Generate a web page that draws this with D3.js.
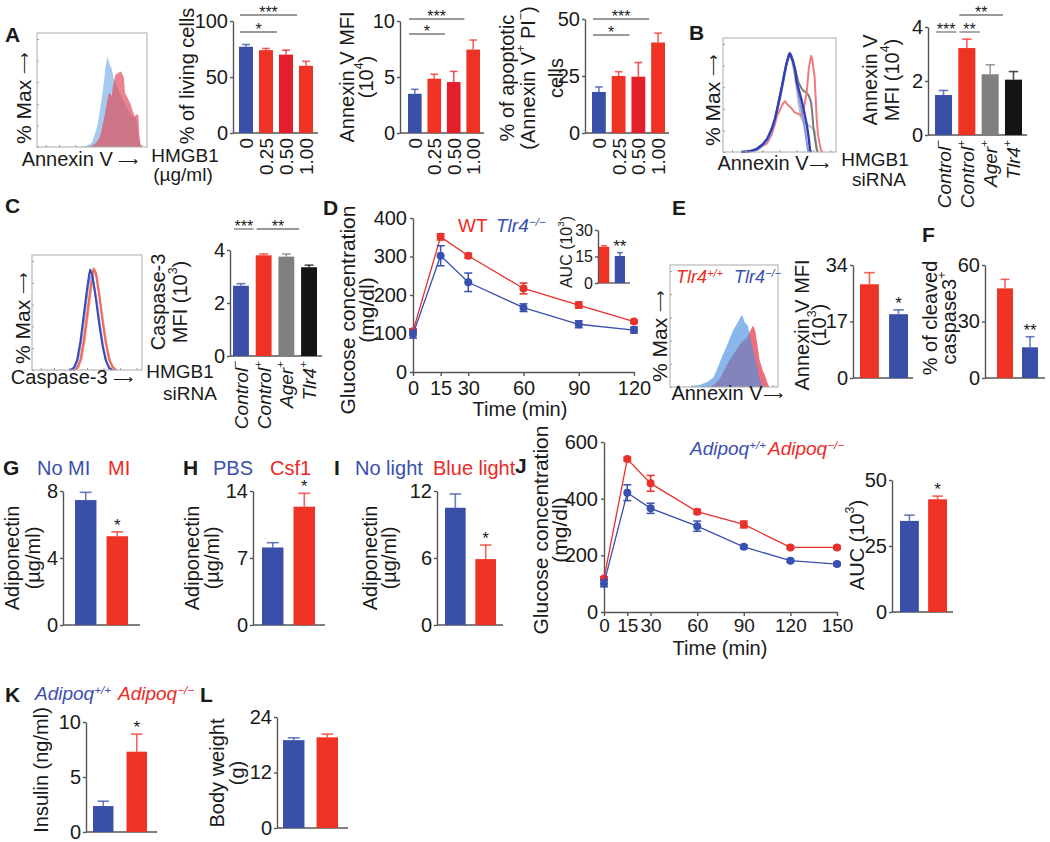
<!DOCTYPE html>
<html>
<head>
<meta charset="utf-8">
<script src="https://cdn.jsdelivr.net/npm/d3@7"></script>
<style>
  body { margin: 0; background: #fff; }
</style>
</head>
<body>
<div id="chart"></div>
<script>
// ---- data ----

// A: HMGB1 dose response
const hmgbDoses = ["0", "0.25", "0.50", "1.00"];
const livingCells = [77, 74, 70, 60];
const livingCellsErr = [2, 1.5, 4, 4];
const annexinMfiA = [3.5, 4.85, 4.55, 7.45];
const annexinMfiAErr = [0.4, 0.4, 0.95, 0.85];
const apoptoticCells = [18, 25, 24.7, 39.7];
const apoptoticCellsErr = [2.2, 1.9, 6.2, 4.1];
const sigA = [[0, 2, "*", 0], [0, 3, "***", 1]];

// B / C: siRNA groups
const sirnaGroups = ["Control^{−}", "Control^{+}", "Ager^{+}", "Tlr4^{+}"];
const annexinMfiB = [1.48, 3.22, 2.25, 2.05];
const annexinMfiBErr = [0.17, 0.33, 0.35, 0.3];
const sigB = [[0, 1, "***", 0], [1, 2, "**", 0], [1, 3, "**", 1]];
const caspaseMfi = [2.65, 3.8, 3.75, 3.35];
const caspaseMfiErr = [0.08, 0.05, 0.1, 0.08];
const sigC = [[0, 1, "***", 0], [1, 3, "**", 0]];

// D: glucose tolerance WT vs Tlr4-/-
const timesD = [0, 15, 30, 60, 90, 120];
const glucoseWT = [106, 351, 302, 217, 174, 131];
const glucoseWTErr = [6, 8, 6, 14, 8, 3];
const glucoseTlr4 = [98, 302, 233, 167, 124, 109];
const glucoseTlr4Err = [10, 26, 24, 10, 9, 8];
const aucD = [20.5, 15.3];
const aucDErr = [0.6, 1.9];

// E / F
const annexinMfiE = [28.2, 19.2];
const annexinMfiEErr = [3.5, 1.3];
const cleavedCaspase = [47.6, 16.3];
const cleavedCaspaseErr = [4.8, 5.6];

// G / H / I: adiponectin
const adipoMI = [7.46, 5.3];
const adipoMIErr = [0.46, 0.26];
const adipoCsf1 = [8.1, 12.36];
const adipoCsf1Err = [0.5, 1.4];
const adipoLight = [10.5, 5.9];
const adipoLightErr = [1.23, 1.26];

// J: glucose tolerance Adipoq
const timesJ = [0, 15, 30, 60, 90, 120, 150];
const glucoseAdipoWT = [101, 421, 366, 303, 230, 181, 169];
const glucoseAdipoWTErr = [12, 28, 18, 18, 6, 5, 5];
const glucoseAdipoKO = [118, 540, 454, 354, 309, 228, 228];
const glucoseAdipoKOErr = [6, 6, 28, 8, 12, 5, 5];
const aucJ = [34.5, 42.7];
const aucJErr = [2.2, 1.2];

// K / L
const insulin = [2.36, 7.3];
const insulinErr = [0.44, 1.6];
const bodyWeight = [19.0, 19.6];
const bodyWeightErr = [0.5, 0.7];

// flow histograms: [x % of range, height % of max]
const histABlue = [[38,0],[45,1],[50,4],[55,20],[59,46],[61,62],[62,72],[64,84],[65,80],[66,77],[68,72],[70,62],[72,58],[74,52],[76,48],[78,44],[80,40],[82,36],[84,32],[86,29],[88,28],[90,27],[91,22],[92,10],[94,2],[95,0]];
const histARed = [[46,0],[50,1],[54,4],[57,9],[59,17],[62,32],[65,49],[66,50],[68,47],[69,56],[71,66],[73,68],[76,70],[77,69],[79,64],[80,50],[82,46],[85,40],[87,33],[88,31],[89,28],[90,30],[92,30],[93,12],[94,3],[95,0]];
const histBBlue = [[16,0],[25,1],[30,3],[35,7],[39,12],[43,21],[46,31],[49,45],[52,60],[54,71],[56,81],[58,88],[59,91],[60,90],[61,86],[62,84],[64,75],[65,66],[67,58],[70,46],[72,36],[74,26],[76,12],[77,2],[78,0]];
const histBLightBlue = [[18,0],[27,1],[32,3],[37,8],[41,14],[45,25],[48,38],[51,52],[54,68],[56,80],[58,90],[59,92],[61,88],[63,78],[65,64],[67,52],[70,36],[72,24],[74,10],[75,2],[76,0]];
const histBGrey = [[20,0],[30,2],[40,12],[46,30],[50,50],[54,70],[57,86],[59,91],[61,88],[63,80],[65,72],[67,64],[70,58],[72,56],[74,55],[76,52],[78,46],[79,35],[80,23],[82,8],[83,2],[84,0]];
const histBLightGrey = [[20,0],[30,2],[40,12],[46,30],[50,50],[54,70],[57,86],[59,91],[61,85],[63,74],[65,60],[67,44],[69,32],[71,28],[73,26],[75,25],[77,24],[79,22],[81,20],[82,12],[83,4],[84,0]];
const histBRed = [[19,0],[28,2],[34,5],[39,8],[43,16],[46,26],[48,34],[50,38],[52,43],[54,46],[55,47],[57,44],[59,42],[61,40],[63,37],[65,36],[67,35],[69,34],[71,38],[72,43],[74,55],[75,66],[76,78],[78,89],[79,86],[80,78],[81,70],[82,50],[83,30],[84,17],[86,5],[87,1],[88,0]];
const histCBlue = [[34,0],[38,2],[41,9],[44,26],[47,50],[50,74],[52,88],[53,92],[55,86],[58,66],[61,43],[64,23],[67,9],[70,2],[73,0]];
const histCLightBlue = [[35,0],[39,2],[42,10],[45,28],[48,52],[51,76],[53,86],[54,84],[56,80],[59,62],[62,40],[65,20],[68,7],[71,1],[74,0]];
const histCRed = [[37,0],[41,2],[44,9],[47,27],[50,50],[53,74],[55,88],[56,93],[58,89],[61,69],[64,46],[67,25],[70,10],[73,3],[76,0]];
const histCPink = [[38,0],[42,2],[45,10],[48,28],[51,52],[54,76],[56,88],[57,92],[59,86],[62,64],[65,42],[68,22],[71,8],[74,2],[77,0]];
const histEBlue = [[18,0],[22,1],[28,2],[34,4],[37,6],[40,8],[43,14],[46,21],[49,28],[52,34],[55,41],[58,48],[61,53],[63,56],[65,60],[67,62],[69,56],[72,53],[75,40],[78,28],[80,21],[83,7],[86,0]];
const histERed = [[37,0],[42,3],[46,7],[50,14],[55,23],[60,30],[65,37],[68,40],[71,42],[74,48],[77,53],[79,48],[80,42],[83,23],[86,14],[88,10],[90,4],[92,0]];

// ---- drawing ----
const W = 1050, H = 842;
const FONT = "'Liberation Sans', Arial, Helvetica, sans-serif";
const BLUE = "#3a50a8", RED = "#ee3224", RED2 = "#e21f2a", GREY = "#808080", BLACK = "#141414";
const TXT_BLUE = "#3b4fb0", TXT_RED = "#ec2a26";
const AXIS = "#555";
const intFmt = d3.format("~g");

const svg = d3.select("#chart").append("svg")
    .attr("width", W).attr("height", H)
    .attr("font-family", FONT);
svg.append("rect").attr("width", W).attr("height", H).attr("fill", "#fff");

// text with ^{superscript} parts
function rich(sel, str) {
    str.split(/(\^\{[^}]*\})/).filter(s => s).forEach(p => {
        if (p.startsWith("^{")) {
            sel.append("tspan").attr("baseline-shift", "super").attr("font-size", "62%").text(p.slice(2, -1));
        } else {
            sel.append("tspan").text(p);
        }
    });
    return sel;
}

function label(x, y, str, opt = {}) {
    let t = svg.append("text")
        .attr("x", x).attr("y", y)
        .attr("font-size", opt.size || 19)
        .attr("fill", opt.color || "#1a1a1a")
        .attr("text-anchor", opt.anchor || "start");
    if (opt.bold) t.attr("font-weight", "bold");
    if (opt.italic) t.attr("font-style", "italic");
    return rich(t, str);
}

function vlabel(x, cy, str, opt = {}) {
    let t = svg.append("text")
        .attr("transform", `translate(${x},${cy}) rotate(-90)`)
        .attr("font-size", opt.size || 20)
        .attr("fill", "#1a1a1a")
        .attr("text-anchor", "middle")
        .attr("dominant-baseline", "central");
    return rich(t, str);
}

function styleAxis(g, size) {
    g.attr("font-family", FONT).attr("font-size", size || 20).attr("color", "#1a1a1a");
    g.select(".domain").attr("stroke", AXIS).attr("stroke-width", 1.4);
    g.selectAll(".tick line").attr("stroke", AXIS).attr("stroke-width", 1.4);
}

function barPanel(o) {
    let g = svg.append("g");
    let y = d3.scaleLinear().domain([0, o.max]).range([o.y0, o.yTop]);
    let x = d3.scaleBand().domain(d3.range(o.values.length)).range(o.band)
        .paddingInner(o.pad).paddingOuter(0);
    let bw = x.bandwidth();

    g.append("g")
        .attr("transform", `translate(${o.ax},0)`)
        .call(d3.axisLeft(y).tickValues(o.ticks).tickFormat(intFmt)
            .tickSize(3).tickSizeOuter(0).tickPadding(2))
        .call(a => styleAxis(a, o.tickSize));

    g.append("line")
        .attr("x1", o.ax).attr("x2", o.xEnd)
        .attr("y1", o.y0).attr("y2", o.y0)
        .attr("stroke", AXIS).attr("stroke-width", 1.4);

    // error bars (upper only)
    g.selectAll(".err").data(o.values).join("g").each(function(v, i) {
        let c = x(i) + bw / 2;
        let e = d3.select(this);
        e.append("line").attr("x1", c).attr("x2", c)
            .attr("y1", y(v)).attr("y2", y(v + o.errs[i]))
            .attr("stroke", o.colors[i]).attr("stroke-width", 1.6).attr("opacity", 0.75);
        e.append("line").attr("x1", c - bw * 0.28).attr("x2", c + bw * 0.28)
            .attr("y1", y(v + o.errs[i])).attr("y2", y(v + o.errs[i]))
            .attr("stroke", o.colors[i]).attr("stroke-width", 1.6).attr("opacity", 0.75);
    });

    g.selectAll(".bar").data(o.values).join("rect")
        .attr("x", (d, i) => x(i))
        .attr("width", bw)
        .attr("y", d => y(d))
        .attr("height", d => o.y0 - y(d))
        .attr("fill", (d, i) => o.colors[i]);

    // category labels, rotated
    if (o.cats) {
        o.cats.forEach((c, i) => {
            let t = g.append("text")
                .attr("transform", `translate(${x(i) + bw / 2},${o.y0 + 5}) rotate(-90)`)
                .attr("text-anchor", "end")
                .attr("dominant-baseline", "central")
                .attr("font-size", o.catSize || 19)
                .attr("fill", "#1a1a1a");
            if (o.catItalic) t.attr("font-style", "italic");
            rich(t, c);
        });
    }

    // significance brackets
    if (o.sig) {
        o.sig.forEach(s => {
            let ly = o.sigY[s[3]];
            let x1 = x(s[0]) + 1, x2 = x(s[1]) - 2;
            g.append("line").attr("x1", x1).attr("x2", x2).attr("y1", ly).attr("y2", ly)
                .attr("stroke", "#777").attr("stroke-width", 1.3);
            g.append("text").attr("x", (x1 + x2) / 2).attr("y", ly + 3)
                .attr("text-anchor", "middle").attr("font-size", 16).attr("fill", "#1a1a1a")
                .text(s[2]);
        });
    }
    if (o.star) {
        let i = o.star[0];
        g.append("text").attr("x", x(i) + bw / 2).attr("y", y(o.values[i] + o.errs[i]) - 1)
            .attr("text-anchor", "middle").attr("font-size", 17).attr("fill", "#1a1a1a")
            .text(o.star[1]);
    }

    if (o.title) {
        o.title.forEach((t, k) => vlabel(o.titleX[k], o.titleY, t, {size: o.titleSize}));
    }
}

function linePanel(o) {
    let x = d3.scaleLinear().domain(o.xDomain).range(o.xRange);
    let y = d3.scaleLinear().domain(o.yDomain).range(o.yRange);

    svg.append("g")
        .attr("transform", `translate(${o.xRange[0]},0)`)
        .call(d3.axisLeft(y).tickValues(o.yTicks).tickFormat(intFmt)
            .tickSize(3).tickSizeOuter(0).tickPadding(3))
        .call(a => styleAxis(a));
    svg.append("g")
        .attr("transform", `translate(0,${o.yRange[0]})`)
        .call(d3.axisBottom(x).tickValues(o.xTicks).tickFormat(intFmt)
            .tickSize(4).tickSizeOuter(0).tickPadding(o.xPad))
        .call(a => styleAxis(a, o.xTickSize));

    let line = d3.line().x(d => x(d.t)).y(d => y(d.v));
    o.series.forEach(s => {
        let pts = o.times.map((t, i) => ({t: t, v: s.values[i], e: s.errs[i]}));
        svg.append("path").datum(pts).attr("d", line)
            .attr("fill", "none").attr("stroke", s.color).attr("stroke-width", 1.3);
        let eg = svg.append("g").attr("stroke", s.color).attr("stroke-width", 1.5);
        pts.forEach(p => {
            eg.append("line").attr("x1", x(p.t)).attr("x2", x(p.t))
                .attr("y1", y(p.v - p.e)).attr("y2", y(p.v + p.e));
            [p.v - p.e, p.v + p.e].forEach(v => {
                eg.append("line").attr("x1", x(p.t) - 4).attr("x2", x(p.t) + 4)
                    .attr("y1", y(v)).attr("y2", y(v));
            });
        });
        svg.append("g").selectAll("circle").data(pts).join("circle")
            .attr("cx", d => x(d.t)).attr("cy", d => y(d.v)).attr("r", 4)
            .attr("fill", s.color);
    });
}

function histPanel(o) {
    let g = svg.append("g");
    let x = d3.scaleLinear().domain([0, 100]).range([o.box[0], o.box[2]]);
    let y = d3.scaleLinear().domain([0, 100]).range([o.box[3], o.box[1] + 6]);

    o.curves.forEach(c => {
        if (c.fill) {
            g.append("path").datum(c.data)
                .attr("d", d3.area().x(d => x(d[0])).y0(y(0)).y1(d => y(d[1])))
                .attr("fill", c.fill).attr("fill-opacity", c.opacity || 1);
        } else {
            g.append("path").datum(c.data)
                .attr("d", d3.line().x(d => x(d[0])).y(d => y(d[1])))
                .attr("fill", "none").attr("stroke", c.stroke)
                .attr("stroke-width", c.width || 2).attr("stroke-opacity", c.opacity || 1)
                .attr("stroke-linejoin", "round");
        }
    });

    // small inner ticks on left and bottom
    g.append("g").attr("transform", `translate(${o.box[0]},0)`)
        .call(d3.axisRight(y).tickValues(d3.range(0, 101, 20)).tickSize(2).tickFormat(""))
        .call(a => { a.select(".domain").remove(); a.selectAll("line").attr("stroke", "#999"); });
    g.append("g").attr("transform", `translate(0,${o.box[3]})`)
        .call(d3.axisTop(x).tickValues([8, 20, 35, 50, 65, 80, 95]).tickSize(2).tickFormat(""))
        .call(a => { a.select(".domain").remove(); a.selectAll("line").attr("stroke", "#999"); });

    g.append("rect")
        .attr("x", o.box[0]).attr("y", o.box[1])
        .attr("width", o.box[2] - o.box[0]).attr("height", o.box[3] - o.box[1])
        .attr("fill", "none").attr("stroke", "#aaa").attr("stroke-width", 1);

    // axis captions with a smaller long arrow
    let yl = vlabel(o.yLabelX, o.yLabelY, "% Max ", {size: 21});
    yl.append("tspan").attr("font-size", "72%").text("⟶");
    let xl = label(o.xLabelX, o.xLabelY, o.xLabel, {anchor: "middle", size: 20});
    xl.append("tspan").attr("font-size", "72%").text("⟶");
}

// ================= Panel A =================
label(5, 42, "A", {bold: true, size: 21});
histPanel({box: [37, 33, 147, 147], yLabelX: 23, yLabelY: 98, xLabelX: 80, xLabelY: 166,
    xLabel: "Annexin V ",
    curves: [{data: histABlue, fill: "#a4cbef"}, {data: histARed, fill: "#e04e5c", opacity: 0.7}]});
label(185, 162, "HMGB1", {anchor: "middle"});
label(183, 181, "(µg/ml)", {anchor: "middle"});

barPanel({ax: 233, y0: 133, yTop: 21, xEnd: 318, max: 100, ticks: [0, 50, 100],
    band: [239, 313], pad: 0.3, values: livingCells, errs: livingCellsErr,
    colors: [BLUE, RED, RED2, RED], cats: hmgbDoses,
    sig: sigA, sigY: [32, 15], title: ["% of living cells"], titleX: [187], titleY: 76});
barPanel({ax: 400, y0: 133, yTop: 21, xEnd: 484, max: 10, ticks: [0, 5, 10],
    band: [408, 480], pad: 0.3, values: annexinMfiA, errs: annexinMfiAErr,
    colors: [BLUE, RED, RED2, RED], cats: hmgbDoses,
    sig: sigA, sigY: [34, 19], title: ["Annexin V MFI", "(10^{4})"], titleX: [347, 366], titleY: 77});
barPanel({ax: 585, y0: 133, yTop: 19, xEnd: 669, max: 50, ticks: [0, 25, 50],
    band: [592, 665], pad: 0.3, values: apoptoticCells, errs: apoptoticCellsErr,
    colors: [BLUE, RED, RED2, RED], cats: hmgbDoses,
    sig: sigA, sigY: [35, 19],
    title: ["% of apoptotic", "(Annexin V^{+} PI^{−})", "cells"], titleX: [507, 528, 556], titleY: 78});

// ================= Panel B =================
label(689, 40, "B", {bold: true, size: 21});
histPanel({box: [723, 38, 836, 152], yLabelX: 712, yLabelY: 100, xLabelX: 773, xLabelY: 170,
    xLabel: "Annexin V",
    curves: [
        {data: histBLightGrey, stroke: "#c4c4c4", width: 2},
        {data: histBGrey, stroke: "#7a7a7a", width: 2},
        {data: histBRed, stroke: "#f07a80", width: 2},
        {data: histBLightBlue, stroke: "#8a94dc", width: 2},
        {data: histBBlue, stroke: "#3040b0", width: 2.4}]});
label(875, 166, "HMGB1", {anchor: "middle"});
label(879, 186, "siRNA", {anchor: "middle"});
barPanel({ax: 928, y0: 135, yTop: 27, xEnd: 1027, max: 4, ticks: [0, 2, 4],
    band: [935, 1022], pad: 0.27, values: annexinMfiB, errs: annexinMfiBErr,
    colors: [BLUE, RED, GREY, BLACK], cats: sirnaGroups, catItalic: true,
    sig: sigB, sigY: [32, 15], title: ["Annexin V", "MFI (10^{4})"], titleX: [870, 892], titleY: 80});

// ================= Panel C =================
label(5, 213, "C", {bold: true, size: 21});
histPanel({box: [32, 255, 142, 370], yLabelX: 22, yLabelY: 318, xLabelX: 72, xLabelY: 384,
    xLabel: "Caspase-3 ",
    curves: [
        {data: histCPink, stroke: "#f4a0a0", width: 2},
        {data: histCRed, stroke: "#ee6a5c", width: 2},
        {data: histCLightBlue, stroke: "#9aa6e0", width: 2},
        {data: histCBlue, stroke: "#3a48b8", width: 2}]});
label(180, 378, "HMGB1", {anchor: "middle"});
label(190, 400, "siRNA", {anchor: "middle"});
barPanel({ax: 230, y0: 356, yTop: 250, xEnd: 322, max: 4, ticks: [0, 2, 4],
    band: [233, 317], pad: 0.3, values: caspaseMfi, errs: caspaseMfiErr,
    colors: [BLUE, RED, GREY, BLACK], cats: sirnaGroups, catItalic: true,
    sig: sigC, sigY: [229], title: ["Caspase-3", "MFI (10^{3})"], titleX: [158, 180], titleY: 302});

// ================= Panel D =================
label(323, 215, "D", {bold: true, size: 21});
linePanel({xDomain: [0, 120], xRange: [413, 634], yDomain: [0, 400], yRange: [372, 218],
    yTicks: [0, 100, 200, 300, 400], xTicks: [0, 15, 30, 60, 90, 120], xPad: 5, times: timesD,
    series: [
        {values: glucoseWT, errs: glucoseWTErr, color: "#e8302c"},
        {values: glucoseTlr4, errs: glucoseTlr4Err, color: "#3a50b0"}]});
vlabel(347, 310, "Glucose concentration", {size: 21});
vlabel(366, 310, "(mg/dl)", {size: 21});
label(520, 416, "Time (min)", {anchor: "middle", size: 20});
label(458, 232, "WT", {color: TXT_RED});
label(496, 232, "Tlr4^{−/−}", {color: TXT_BLUE, italic: true});
barPanel({ax: 598, y0: 283, yTop: 230, xEnd: 630, max: 30, ticks: [0, 15, 30], tickSize: 16,
    band: [599, 625], pad: 0.35, values: aucD, errs: aucDErr, colors: [RED, BLUE],
    star: [1, "**"], title: ["AUC (10^{3})"], titleX: [566], titleY: 252, titleSize: 16});

// ================= Panel E =================
label(672, 215, "E", {bold: true, size: 21});
histPanel({box: [670, 265, 778, 387], yLabelX: 659, yLabelY: 336, xLabelX: 727, xLabelY: 400,
    xLabel: "Annexin V",
    curves: [{data: histERed, fill: "#ef6e7c"}, {data: histEBlue, fill: "#4a90e0", opacity: 0.65}]});
label(676, 283, "Tlr4^{+/+}", {color: TXT_RED, italic: true, size: 18});
label(734, 283, "Tlr4^{−/−}", {color: TXT_BLUE, italic: true, size: 18});
barPanel({ax: 853, y0: 378, yTop: 265, xEnd: 913, max: 34, ticks: [0, 17, 34],
    band: [860, 908], pad: 0.35, values: annexinMfiE, errs: annexinMfiEErr, colors: [RED, BLUE],
    star: [1, "*"], title: ["Annexin V MFI", "(10^{3})"], titleX: [802, 819], titleY: 325});

// ================= Panel F =================
label(922, 242, "F", {bold: true, size: 21});
barPanel({ax: 985, y0: 378, yTop: 265, xEnd: 1045, max: 60, ticks: [0, 30, 60],
    band: [997, 1038], pad: 0.36, values: cleavedCaspase, errs: cleavedCaspaseErr, colors: [RED, BLUE],
    star: [1, "**"], title: ["% of cleaved", "caspase3^{+}"], titleX: [930, 949], titleY: 318});

// ================= Panels G, H, I =================
label(3, 475, "G", {bold: true, size: 21});
label(37, 475, "No MI", {color: TXT_BLUE, size: 20});
label(108, 475, "MI", {color: TXT_RED, size: 20});
barPanel({ax: 63, y0: 625, yTop: 491, xEnd: 140, max: 8, ticks: [0, 4, 8],
    band: [75, 128], pad: 0.32, values: adipoMI, errs: adipoMIErr, colors: [BLUE, RED],
    star: [1, "*"], title: ["Adiponectin", "(µg/ml)"], titleX: [12, 33], titleY: 558});

label(183, 475, "H", {bold: true, size: 21});
label(213, 475, "PBS", {color: TXT_BLUE, size: 20});
label(270, 475, "Csf1", {color: TXT_RED, size: 20});
barPanel({ax: 253, y0: 625, yTop: 491, xEnd: 325, max: 14, ticks: [0, 7, 14],
    band: [262, 315], pad: 0.32, values: adipoCsf1, errs: adipoCsf1Err, colors: [BLUE, RED],
    star: [1, "*"], title: ["Adiponectin", "(µg/ml)"], titleX: [192, 212], titleY: 558});

label(334, 475, "I", {bold: true, size: 21});
label(355, 475, "No light", {color: TXT_BLUE, size: 20});
label(433, 475, "Blue light", {color: TXT_RED, size: 20});
barPanel({ax: 437, y0: 625, yTop: 491, xEnd: 503, max: 12, ticks: [0, 6, 12],
    band: [445, 496], pad: 0.32, values: adipoLight, errs: adipoLightErr, colors: [BLUE, RED],
    star: [1, "*"], title: ["Adiponectin", "(µg/ml)"], titleX: [370, 389], titleY: 558});

// ================= Panel J =================
label(515, 473, "J", {bold: true, size: 21});
linePanel({xDomain: [0, 150], xRange: [604, 837], yDomain: [0, 600], yRange: [612, 442],
    yTicks: [0, 200, 400, 600], xTicks: [0, 15, 30, 60, 90, 120, 150], xPad: 3, xTickSize: 19,
    times: timesJ,
    series: [
        {values: glucoseAdipoKO, errs: glucoseAdipoKOErr, color: "#e8302c"},
        {values: glucoseAdipoWT, errs: glucoseAdipoWTErr, color: "#3a50b0"}]});
vlabel(540, 530, "Glucose concentration", {size: 21});
vlabel(559, 530, "(mg/dl)", {size: 21});
label(720, 655, "Time (min)", {anchor: "middle", size: 20});
label(690, 455, "Adipoq^{+/+}", {color: TXT_BLUE, italic: true});
label(768, 455, "Adipoq^{−/−}", {color: TXT_RED, italic: true});
barPanel({ax: 892, y0: 612, yTop: 480, xEnd: 953, max: 50, ticks: [0, 25, 50],
    band: [900, 947], pad: 0.33, values: aucJ, errs: aucJErr, colors: [BLUE, RED],
    star: [1, "*"], title: ["AUC (10^{3})"], titleX: [857], titleY: 545});

// ================= Panels K, L =================
label(5, 702, "K", {bold: true, size: 21});
label(35, 700, "Adipoq^{+/+}", {color: TXT_BLUE, italic: true});
label(118, 700, "Adipoq^{−/−}", {color: TXT_RED, italic: true});
barPanel({ax: 86, y0: 832, yTop: 722, xEnd: 157, max: 10, ticks: [0, 5, 10],
    band: [93, 147], pad: 0.39, values: insulin, errs: insulinErr, colors: [BLUE, RED],
    star: [1, "*"], title: ["Insulin (ng/ml)"], titleX: [41], titleY: 770});

label(200, 702, "L", {bold: true, size: 21});
barPanel({ax: 277, y0: 828, yTop: 717, xEnd: 348, max: 24, ticks: [0, 12, 24],
    band: [283, 338], pad: 0.36, values: bodyWeight, errs: bodyWeightErr, colors: [BLUE, RED],
    title: ["Body weight", "(g)"], titleX: [217, 237], titleY: 773});
</script>
</body>
</html>
